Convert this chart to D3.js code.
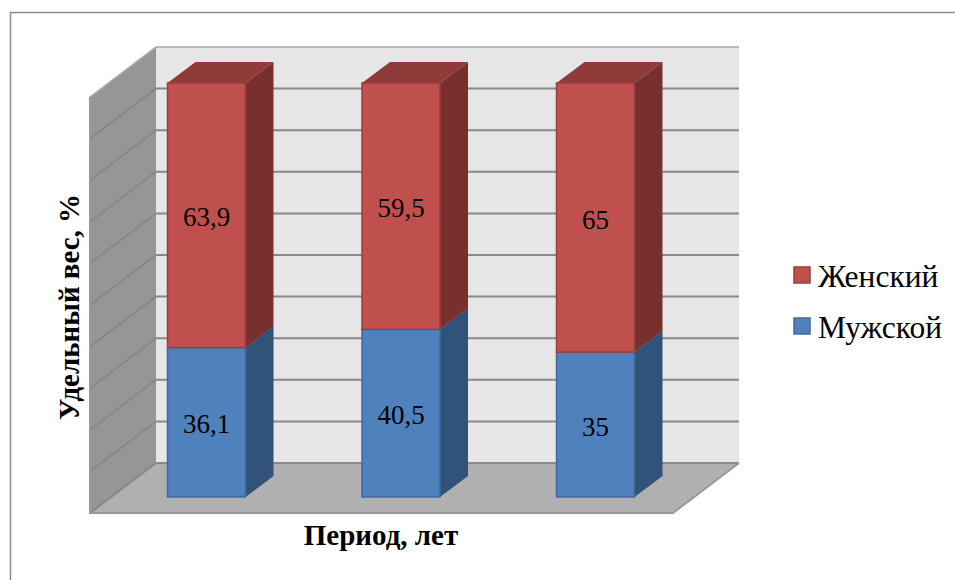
<!DOCTYPE html>
<html lang="ru">
<head>
<meta charset="utf-8">
<script src="https://cdn.jsdelivr.net/npm/d3@7"></script>
<style>
html,body{margin:0;padding:0;background:#fff;}
svg{display:block;}
text{font-family:"Liberation Serif","Times New Roman",serif;fill:#000;}
</style>
</head>
<body>
<svg id="chart" width="955" height="580"></svg>
<script>
// Gender share by period, percent
const periods = ["1", "2", "3"];
const seriesNames = ["Мужской", "Женский"];
const maleShare = [36.1, 40.5, 35];
const femaleShare = [63.9, 59.5, 65];
const maleLabels = ["36,1", "40,5", "35"];
const femaleLabels = ["63,9", "59,5", "65"];
const yTitle = "Удельный вес, %";
const xTitle = "Период, лет";

const svg = d3.select("#chart");

// Oblique projection of the chart box
const wall = {x0: 156, x1: 739, top: 47, bottom: 463, dx: -66, dy: 50};
const bar = {width: 78, dx: 28, dy: -21};

const yWall = d3.scaleLinear().domain([0, 100]).range([wall.bottom, wall.top]);
const yFront = d3.scaleLinear().domain([0, 100]).range([497, 83]);
const xBar = d3.scalePoint().domain(periods).range([167.5, 556.5]);

const gridColor = "#888888";
const poly = pts => pts.map(p => p.join(",")).join(" ");

// Frame around the chart area
svg.append("path").attr("d", "M10.5,580V12.5H955")
  .attr("fill", "none").attr("stroke", "#8c8c8c").attr("stroke-width", 1.5);

// Back wall, side wall, floor
svg.append("rect").attr("x", wall.x0).attr("y", wall.top)
  .attr("width", wall.x1 - wall.x0).attr("height", wall.bottom - wall.top)
  .attr("fill", "#e6e6e6");
svg.append("polygon")
  .attr("points", poly([[wall.x0, wall.top], [wall.x0, wall.bottom],
    [wall.x0 + wall.dx, wall.bottom + wall.dy], [wall.x0 + wall.dx, wall.top + wall.dy]]))
  .attr("fill", "#969696");
svg.append("polygon")
  .attr("points", poly([[wall.x0, wall.bottom], [wall.x1, wall.bottom],
    [wall.x1 + wall.dx, wall.bottom + wall.dy], [wall.x0 + wall.dx, wall.bottom + wall.dy]]))
  .attr("fill", "#b0b0b0");

// Gridlines run along the side wall and across the back wall
const ticks = yWall.ticks(10);
svg.append("g").selectAll("path").data(ticks).join("path")
  .attr("d", t => {
    const y = yWall(t);
    return `M${wall.x0 + wall.dx},${y + wall.dy}L${wall.x0},${y}L${wall.x1},${y}`;
  })
  .attr("fill", "none")
  .attr("stroke", t => t === 100 ? "#aaaaaa" : gridColor)
  .attr("stroke-width", t => t === 100 ? 1.5 : 2);
svg.append("path")
  .attr("d", `M${wall.x0 + wall.dx},${wall.top + wall.dy}V${wall.bottom + wall.dy}H${wall.x1 + wall.dx}L${wall.x1},${wall.bottom}`)
  .attr("fill", "none").attr("stroke", "#999999").attr("stroke-width", 2);

// Stacked columns
const rows = periods.map((p, i) => ({period: p, "Мужской": maleShare[i], "Женский": femaleShare[i]}));
const stacked = d3.stack().keys(seriesNames)(rows);
const palette = {
  "Мужской": {front: "#4f81bd", top: "#3f6797", side: "#325379", stroke: "#3f6a9c"},
  "Женский": {front: "#c0504d", top: "#8f3b39", side: "#78302e", stroke: "#973f3c"}
};

stacked.forEach(layer => {
  const c = palette[layer.key];
  const g = svg.append("g");
  layer.forEach(d => {
    const x = xBar(d.data.period);
    const yb = yFront(d[0]), yt = yFront(d[1]);
    const r = x + bar.width;
    g.append("polygon")
      .attr("points", poly([[r, yt], [r + bar.dx, yt + bar.dy], [r + bar.dx, yb + bar.dy], [r, yb]]))
      .attr("fill", c.side);
    g.append("polygon")
      .attr("points", poly([[x, yt], [x + bar.dx, yt + bar.dy], [r + bar.dx, yt + bar.dy], [r, yt]]))
      .attr("fill", c.top);
    g.append("rect").attr("x", x).attr("y", yt)
      .attr("width", bar.width).attr("height", yb - yt)
      .attr("fill", c.front).attr("stroke", c.stroke).attr("stroke-width", 1.5);
  });
});

// Value labels centred on each front face
const labelsByKey = {"Мужской": maleLabels, "Женский": femaleLabels};
stacked.forEach(layer => {
  svg.append("g").selectAll("text").data(layer).join("text")
    .attr("x", d => xBar(d.data.period) + bar.width / 2)
    .attr("y", d => (yFront(d[0]) + yFront(d[1])) / 2 + 11)
    .attr("text-anchor", "middle")
    .attr("font-size", 27)
    .text((d, i) => labelsByKey[layer.key][i]);
});

// Axis titles
svg.append("text").attr("x", 381).attr("y", 545)
  .attr("text-anchor", "middle").attr("font-size", 29).attr("font-weight", "bold")
  .text(xTitle);
svg.append("text")
  .attr("transform", "translate(79,307) rotate(-90)")
  .attr("text-anchor", "middle").attr("font-size", 29).attr("font-weight", "bold")
  .text(yTitle);

// Legend, top entry is the upper series
const legendColors = ["Женский", "Мужской"];
const legendY = d3.scalePoint().domain(legendColors).range([275, 326]);
const legend = svg.append("g").selectAll("g").data(legendColors).join("g")
  .attr("transform", d => `translate(794,${legendY(d)})`);
legend.append("rect").attr("y", -8).attr("width", 16).attr("height", 16)
  .attr("fill", d => palette[d].front).attr("stroke", d => palette[d].stroke).attr("stroke-width", 1.5);
legend.append("text").attr("x", 24).attr("y", 12).attr("font-size", 31.5).text(d => d);
</script>
</body>
</html>
